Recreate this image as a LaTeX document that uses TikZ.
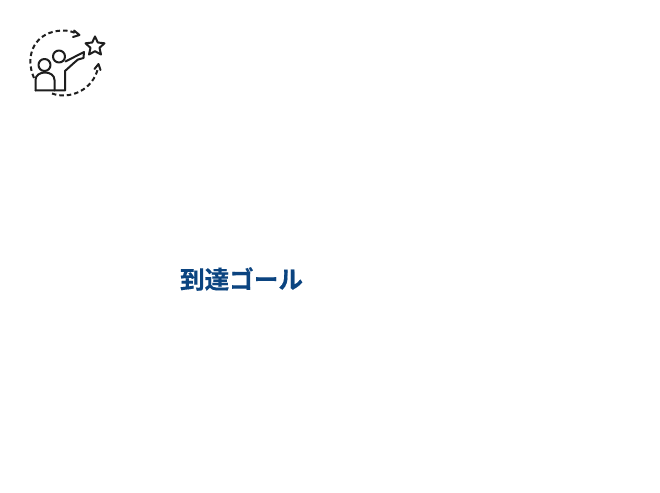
\documentclass[tikz,border=0pt]{standalone}
\usepackage{fontspec}
\newfontfamily\cjk[FakeBold=0.4]{Noto Sans CJK JP Bold}
\usetikzlibrary{arrows.meta}
\definecolor{goalblue}{HTML}{0B4480}
\definecolor{ink}{HTML}{1E1E1E}
\tikzset{
  iconline/.style={draw=ink,line width=2pt,line join=round,line cap=round},
  dashline/.style={draw=ink,line width=2pt,dash pattern=on 4.5pt off 3pt},
  goaltext/.style={font=\cjk\fontsize{24.6}{25}\selectfont,text=goalblue,inner sep=0pt}
}
\begin{document}
\begin{tikzpicture}[x=1pt,y=-1pt]
\useasboundingbox[fill=white] (0,0) rectangle (660,492);
% dashed arcs
\draw[dashline] (34,78) .. controls (24,55) and (35,31) .. (63,30.5) .. controls (68,30.5) and (73,31.5) .. (77,34);
\draw[dashline] (52,93.5) .. controls (70,100) and (93,90) .. (98,68);
% arrow heads
\draw[iconline] (74,30.5) -- (79.5,35) -- (73,37);
\draw[iconline] (94.5,69) -- (98.5,64) -- (100.5,70);
% star
\draw[iconline] (95,36.5) -- (97.8,42.5) -- (104.5,43.3) -- (99.5,47.8) -- (101,54.5) -- (95,51.2) -- (89,54.5) -- (90.5,47.8) -- (85.5,43.3) -- (92.2,42.5) -- cycle;
% front person
\draw[iconline] (44.5,65) circle (6);
\draw[iconline] (35.5,90.5) -- (35.5,80) .. controls (35.5,70) and (54.5,70) .. (54.5,80) -- (54.5,90.5);
% back person
\draw[iconline] (59,56.5) circle (6);
\draw[iconline] (35.5,90.5) -- (65,90.5) -- (65,71) -- (75,62) -- (78,59.5) -- (83.5,58) -- (84,52) -- (65.5,61.5);
% goal text
\node[goaltext,anchor=center] (goal) at (241.5,279) {到達ゴール};
\end{tikzpicture}
\end{document}
